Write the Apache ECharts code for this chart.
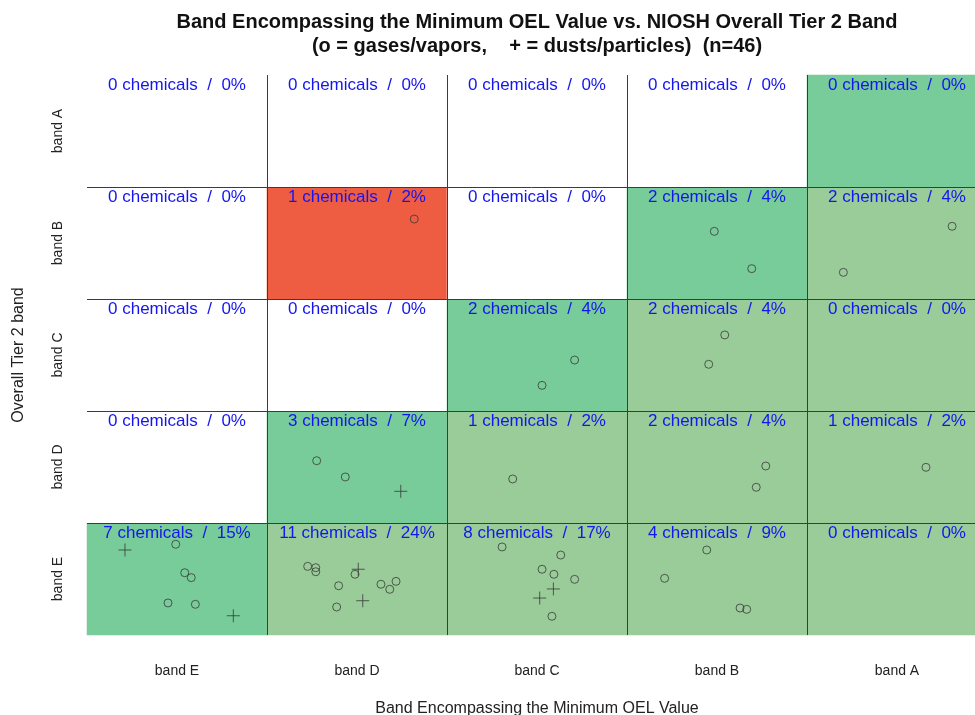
<!DOCTYPE html>
<html>
<head>
<meta charset="utf-8">
<title>Band vs Tier 2 band</title>
<script src="https://cdn.jsdelivr.net/npm/echarts@6/dist/echarts.min.js"></script>
<style>
  html, body { margin: 0; padding: 0; background: #fff; }
  #chart { width: 975px; height: 715px; }
</style>
</head>
<body>
<div id="chart"></div>
<script>
// categories (x left->right, y bottom->top)
var xBands = ['band E', 'band D', 'band C', 'band B', 'band A'];
var yBands = ['band E', 'band D', 'band C', 'band B', 'band A'];

// counts per cell, one row per y band (bottom -> top), columns follow xBands
var countE = [7, 11, 8, 4, 0];
var countD = [0, 3, 1, 2, 1];
var countC = [0, 0, 2, 2, 0];
var countB = [0, 1, 0, 2, 2];
var countA = [0, 0, 0, 0, 0];

// percent labels
var pctE = [15, 24, 17, 9, 0];
var pctD = [0, 7, 2, 4, 2];
var pctC = [0, 0, 4, 4, 0];
var pctB = [0, 2, 0, 4, 4];
var pctA = [0, 0, 0, 0, 0];

// fill code: 0 white, 1 green (match), 2 light green, 3 red
var fillE = [1, 2, 2, 2, 2];
var fillD = [0, 1, 2, 2, 2];
var fillC = [0, 0, 1, 2, 2];
var fillB = [0, 3, 0, 1, 2];
var fillA = [0, 0, 0, 0, 1];

// jittered points (x index, y index)
var gasPoints = [
  [-0.007, 0.310], [0.043, 0.056], [0.079, 0.012], [-0.050, -0.214], [0.102, -0.226],
  [0.726, 0.113], [0.771, 0.101], [0.771, 0.065], [0.989, 0.042], [0.898, -0.060],
  [1.133, -0.047], [1.182, -0.092], [1.217, -0.021], [0.887, -0.250],
  [1.806, 0.286], [2.132, 0.214], [2.028, 0.087], [2.094, 0.042], [2.209, -0.003], [2.083, -0.333],
  [2.943, 0.259], [2.709, 0.006], [3.128, -0.259], [3.165, -0.271],
  [0.776, 1.056], [0.935, 0.911], [1.865, 0.893], [3.271, 1.009], [3.218, 0.819], [4.161, 0.997],
  [2.209, 1.955], [2.028, 1.729], [3.043, 2.179], [2.954, 1.917],
  [1.318, 3.214], [2.985, 3.104], [3.193, 2.771], [4.306, 3.149], [3.702, 2.738]
];
var dustPoints = [
  [-0.289, 0.259], [0.313, -0.328],
  [1.007, 0.087], [1.032, -0.194],
  [2.091, -0.089], [2.015, -0.170],
  [1.243, 0.783]
];

var countRows = [countE, countD, countC, countB, countA];
var pctRows = [pctE, pctD, pctC, pctB, pctA];
var fillRows = [fillE, fillD, fillC, fillB, fillA];

var cellData = [];
for (var yi = 0; yi < yBands.length; yi++) {
  for (var xi = 0; xi < xBands.length; xi++) {
    cellData.push([xi, yi, fillRows[yi][xi], countRows[yi][xi], pctRows[yi][xi]]);
  }
}

var font = 'Liberation Sans, Arial, Helvetica, sans-serif';
var lineColor = '#3c3c3c';

var option = {
  animation: false,
  backgroundColor: '#ffffff',
  title: {
    text: 'Band Encompassing the Minimum OEL Value vs. NIOSH Overall Tier 2 Band\n(o = gases/vapors,    + = dusts/particles)  (n=46)',
    left: 532,
    top: 5,
    textAlign: 'center',
    textStyle: {
      fontFamily: font,
      fontSize: 20,
      fontWeight: 'bold',
      color: '#111',
      lineHeight: 24
    }
  },
  grid: { left: 87, top: 75, width: 900, height: 560, outerBoundsMode: 'none', containLabel: false },
  visualMap: {
    type: 'piecewise',
    show: false,
    dimension: 2,
    seriesIndex: 0,
    pieces: [
      { value: 0, color: '#ffffff' },
      { value: 1, color: '#77CC99' },
      { value: 2, color: '#99CC99' },
      { value: 3, color: '#EE5C42' }
    ]
  },
  xAxis: [{
    type: 'category',
    data: xBands,
    boundaryGap: true,
    axisLine: { show: false },
    axisTick: { show: true, alignWithLabel: true, length: 12, lineStyle: { color: '#555' } },
    axisLabel: { margin: 29, fontSize: 14, fontFamily: font, color: '#222' },
    splitLine: { show: false },
    name: 'Band Encompassing the Minimum OEL Value',
    nameLocation: 'middle',
    nameGap: 66,
    nameTextStyle: { fontSize: 16, fontFamily: font, color: '#222' }
  }, {
    type: 'value', min: -0.5, max: 4.5, show: false
  }],
  yAxis: [{
    type: 'category',
    data: yBands,
    boundaryGap: true,
    axisLine: { show: false },
    axisTick: { show: true, alignWithLabel: true, length: 10, lineStyle: { color: '#555' } },
    axisLabel: { margin: 22, fontSize: 14, fontFamily: font, color: '#222', rotate: 90 },
    splitLine: { show: false },
    name: 'Overall Tier 2 band',
    nameLocation: 'middle',
    nameGap: 60,
    nameRotate: 90,
    nameTextStyle: { fontSize: 16, fontFamily: font, color: '#222' }
  }, {
    type: 'value', min: -0.5, max: 4.5, show: false
  }],
  series: [{
    type: 'heatmap',
    xAxisIndex: 0,
    yAxisIndex: 0,
    data: cellData,
    itemStyle: { borderWidth: 0 },
    emphasis: { disabled: true },
    label: {
      show: true,
      position: 'insideTop',
      distance: 2,
      fontSize: 17,
      fontFamily: font,
      color: '#1515ee',
      formatter: function (p) {
        return p.data[3] + ' chemicals  /  ' + p.data[4] + '%';
      }
    },
    z: 1
  }, {
    type: 'scatter',
    name: 'gases/vapors',
    xAxisIndex: 1,
    yAxisIndex: 1,
    data: gasPoints,
    symbol: 'circle',
    symbolSize: 8,
    itemStyle: { color: 'rgba(0,0,0,0)', borderColor: '#3a3a3a', borderWidth: 1 },
    emphasis: { disabled: true },
    markLine: {
      silent: true,
      symbol: ['none', 'none'],
      label: { show: false },
      lineStyle: { color: lineColor, width: 1, type: 'solid' },
      data: [
        { xAxis: 0.5 }, { xAxis: 1.5 }, { xAxis: 2.5 }, { xAxis: 3.5 },
        { yAxis: 0.5 }, { yAxis: 1.5 }, { yAxis: 2.5 }, { yAxis: 3.5 }
      ]
    },
    z: 3
  }, {
    type: 'scatter',
    name: 'dusts/particles',
    xAxisIndex: 1,
    yAxisIndex: 1,
    data: dustPoints,
    symbol: 'path://M0,6H12M6,0V12',
    symbolSize: 13,
    itemStyle: { color: 'rgba(0,0,0,0)', borderColor: '#3a3a3a', borderWidth: 1 },
    emphasis: { disabled: true },
    z: 3
  }]
};

var myChart = echarts.init(document.getElementById('chart'));
myChart.setOption(option);
</script>
</body>
</html>
